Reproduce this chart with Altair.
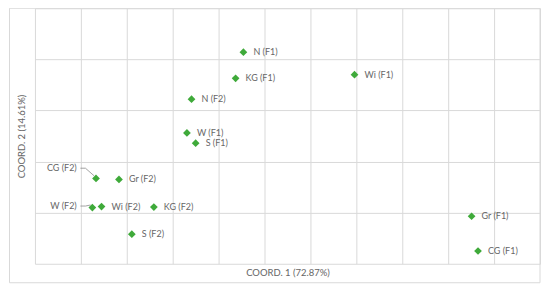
import altair as alt
import pandas as pd

# data (coordinate units: grid cells)
labels = ["N (F1)", "KG (F1)", "N (F2)", "W (F1)", "S (F1)", "Wi (F1)",
          "CG (F2)", "Gr (F2)", "W (F2)", "Wi (F2)", "KG (F2)", "S (F2)",
          "Gr (F1)", "CG (F1)"]
coord1 = [4.54, 4.37, 3.41, 3.31, 3.50, 6.96,
          1.33, 1.83, 1.25, 1.45, 2.59, 2.11,
          9.51, 9.65]
coord2 = [4.14, 3.63, 3.22, 2.56, 2.36, 3.70,
          1.67, 1.65, 1.10, 1.12, 1.11, 0.58,
          0.93, 0.25]
# labels placed to the left with leader lines
left_labels = ["CG (F2)", "W (F2)"]
left_label_x = [0.91, 0.91]
left_label_y = [1.87, 1.13]

GREEN = "#3FAA3A"
GRAY = "#666666"
GRID = "#d9d9d9"
FONT = "Lato"

df = pd.DataFrame({"label": labels, "x": coord1, "y": coord2})
df["right"] = ~df["label"].isin(left_labels)

ldf = pd.DataFrame({"label": left_labels, "x": left_label_x, "y": left_label_y})

# leader lines: from label end -> short horizontal -> point
rows = []
for lab, lx, ly in zip(left_labels, left_label_x, left_label_y):
    px = coord1[labels.index(lab)]
    py = coord2[labels.index(lab)]
    rows.append({"label": lab, "order": 0, "x": lx + 0.08, "y": ly})
    rows.append({"label": lab, "order": 1, "x": lx + 0.19, "y": ly})
    rows.append({"label": lab, "order": 2, "x": px - 0.04, "y": py + 0.05})
lead = pd.DataFrame(rows)

xs = alt.Scale(domain=[0, 11], nice=False, zero=False)
ys = alt.Scale(domain=[0, 5], nice=False, zero=False)

xax = alt.Axis(values=list(range(12)), labels=False, ticks=False, domain=False,
               grid=True, gridColor=GRID, gridWidth=1,
               title="COORD. 1 (72.87%)", titleFont=FONT, titleFontSize=9.5,
               titleFontWeight="normal", titleColor=GRAY, titlePadding=4)
yax = alt.Axis(values=list(range(6)), labels=False, ticks=False, domain=False,
               grid=True, gridColor=GRID, gridWidth=1,
               title="COORD. 2 (14.61%)", titleFont=FONT, titleFontSize=9.5,
               titleFontWeight="normal", titleColor=GRAY, titlePadding=8)

base = alt.Chart(df)

frame = alt.Chart(pd.DataFrame({"a": [0]})).mark_rect(
    fill=None, stroke=GRID, strokeWidth=1
).encode(x=alt.value(-25.5), x2=alt.value(506), y=alt.value(0), y2=alt.value(275))

points = base.mark_point(shape="diamond", filled=True, size=60, color=GREEN, opacity=1).encode(
    x=alt.X("x:Q", scale=xs, axis=xax),
    y=alt.Y("y:Q", scale=ys, axis=yax),
)

text_right = base.transform_filter("datum.right").mark_text(
    align="left", baseline="middle", dx=10, font=FONT, fontSize=9, color=GRAY
).encode(x=alt.X("x:Q", scale=xs), y=alt.Y("y:Q", scale=ys), text="label:N")

text_left = alt.Chart(ldf).mark_text(
    align="right", baseline="middle", font=FONT, fontSize=9, color=GRAY
).encode(x=alt.X("x:Q", scale=xs), y=alt.Y("y:Q", scale=ys), text="label:N")

leaders = alt.Chart(lead).mark_line(color="#8c8c8c", strokeWidth=0.8).encode(
    x=alt.X("x:Q", scale=xs), y=alt.Y("y:Q", scale=ys),
    detail="label:N", order="order:Q"
)

chart = alt.layer(frame, leaders, points, text_right, text_left).properties(
    width=506, height=256,
    autosize=alt.AutoSizeParams(type="none"),
    padding={"left": 27, "top": 0, "right": 2, "bottom": 20},
).configure_view(stroke=None)

chart.save("out.html", embed_options={"renderer": "svg", "actions": False})
